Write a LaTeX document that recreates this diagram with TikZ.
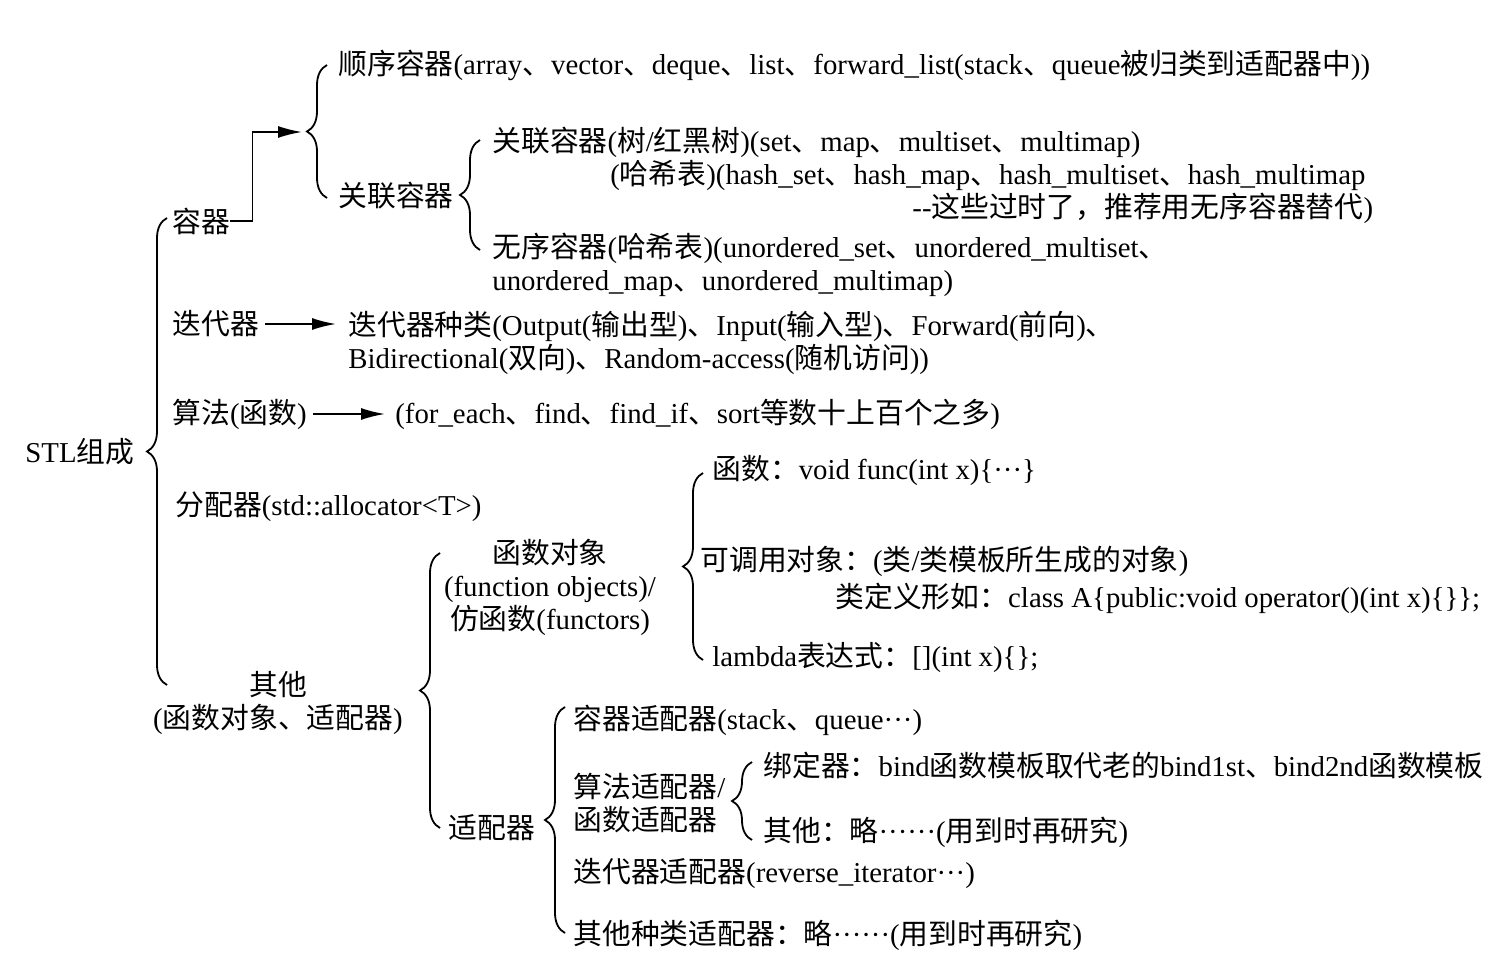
\documentclass[tikz,border=0pt]{standalone}
\usepackage{fontspec}
\setmainfont{Liberation Serif}
\newfontfamily\cjkfont{Noto Sans CJK SC}
\usepackage{tikz}
\usetikzlibrary{arrows.meta}
\usetikzlibrary{decorations.pathreplacing}
% switch to the CJK font for Chinese characters
\newXeTeXintercharclass\cjkclass
\makeatletter
\count@="3000
\loop \XeTeXcharclass\count@=\cjkclass \ifnum\count@<"303F \advance\count@ 1 \repeat
\count@="4E00
\loop \XeTeXcharclass\count@=\cjkclass \ifnum\count@<"9FFF \advance\count@ 1 \repeat
\count@="FF00
\loop \XeTeXcharclass\count@=\cjkclass \ifnum\count@<"FF5E \advance\count@ 1 \repeat
\makeatother
\XeTeXinterchartoks 0 \cjkclass={\cjkfont}
\XeTeXinterchartoks 4095 \cjkclass={\cjkfont}
\XeTeXinterchartoks \cjkclass 0={\rmfamily}
\XeTeXinterchartokenstate=1
\tikzstyle{txt}=[anchor=west,inner sep=0pt]
\tikzstyle{blk}=[txt,align=left]
\tikzstyle{cblk}=[inner sep=0pt,align=center]
\tikzstyle{arr}=[-{Latex[length=12pt,width=6pt]},line width=0.9pt]
\tikzstyle{brc}=[decorate,decoration={brace,amplitude=10pt},line width=0.9pt]

\begin{document}
\begin{tikzpicture}[x=0.5pt,y=-0.5pt,font=\fontsize{14.4}{16.5}\selectfont]
      \useasboundingbox (0,0) rectangle (1500,967);
      \node[txt] at (25,452) (stl) {STL组成};
      \draw[brc] (167,685) -- (167,218);
      % containers
      \node[txt] at (172,221) (rq) {容器};
      \draw[brc] (327,198) -- (327,65);
      \coordinate (b2tip) at (302,132);
      \draw[arr] (rq.east) -- ++(22,0) |- (b2tip);
      \node[txt] at (338,65) (sxrq) {顺序容器(array、vector、deque、list、forward\_list(stack、queue被归类到适配器中))};
      \node[txt] at (338,196) (glrq) {关联容器};
      \draw[brc] (480,250) -- (480,140);
      \node[txt] at (492,142) (shu) {关联容器(树/红黑树)(set、map、multiset、multimap)};
      \node[txt] at (610,175) (hash) {(哈希表)(hash\_set、hash\_map、hash\_multiset、hash\_multimap};
      \node[txt] at (912,208) (old) {-{}-这些过时了，推荐用无序容器替代)};
      \node[blk] at (492,265) (wx) {无序容器(哈希表)(unordered\_set、unordered\_multiset、\\unordered\_map、unordered\_multimap)};
      % iterators
      \node[txt] at (172,324) (ddq) {迭代器};
      \node[blk] at (348,343) (ddzl) {迭代器种类(Output(输出型)、Input(输入型)、Forward(前向)、\\Bidirectional(双向)、Random-access(随机访问))};
      \draw[arr,shorten <=3pt,shorten >=6pt] (ddq.east) -- (ddzl.west |- ddq.east);
      % algorithms
      \node[txt] at (172,414) (sf) {算法(函数)};
      \node[txt] at (395,414) (fe) {(for\_each、find、find\_if、sort等数十上百个之多)};
      \draw[arr,shorten <=3pt,shorten >=5pt] (sf) -- (fe);
      \node[txt] at (175,507) (fpq) {分配器(std::allocator<T>)};
      % others
      \node[cblk] at (278,703) (qt) {其他\\(函数对象、适配器)};
      \draw[brc] (440,828) -- (440,553);
      \node[cblk] at (550,587) (hsdx) {函数对象\\(function objects)/\\仿函数(functors)};
      \draw[brc] (703,660) -- (703,473);
      \node[txt] at (712,470) (hs) {函数：void func(int x)\{···\}};
      \node[txt] at (700,561) (kdy) {可调用对象：(类/类模板所生成的对象)};
      \node[txt] at (835,598) (ldy) {类定义形如：class A\{public:void operator()(int x)\{\}\};};
      \node[txt] at (712,657) (lmd) {lambda表达式：[](int x)\{\};};
      \node[txt] at (448,828) (spq) {适配器};
      \draw[brc] (565,933) -- (565,707);
      \node[txt] at (573,720) (rqsp) {容器适配器(stack、queue···)};
      \node[blk] at (573,803) (sfsp) {算法适配器/\\函数适配器};
      \draw[brc] (752,840) -- (752,762);
      \node[txt] at (763,765) (bdq) {绑定器：bind函数模板取代老的bind1st、bind2nd函数模板};
      \node[txt] at (763,832) (qtl) {其他：略······(用到时再研究)};
      \node[txt] at (573,873) (ddsp) {迭代器适配器(reverse\_iterator···)};
      \node[txt] at (573,935) (qtsp) {其他种类适配器：略······(用到时再研究)};
\end{tikzpicture}
\end{document}
